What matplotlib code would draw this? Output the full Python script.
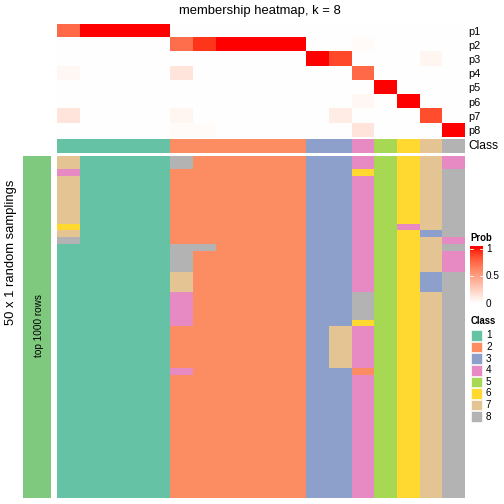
import numpy as np
import matplotlib
matplotlib.use("Agg")
import matplotlib.pyplot as plt
from matplotlib.colors import ListedColormap, BoundaryNorm
from matplotlib.patches import Rectangle

plt.rcParams['font.family'] = ['Liberation Sans', 'DejaVu Sans']

# ---------------- data ----------------
prob_labels = ["p1", "p2", "p3", "p4", "p5", "p6", "p7", "p8"]
n_cols = 18
# membership probability per row (sparse: column -> value)
p1 = {0: 0.74, 1: 1, 2: 1, 3: 1, 4: 1}
p2 = {5: 0.72, 6: 0.92, 7: 1, 8: 1, 9: 1, 10: 1, 13: 0.02}
p3 = {11: 1, 12: 0.87, 16: 0.05}
p4 = {0: 0.04, 5: 0.14, 13: 0.74}
p5 = {14: 1}
p6 = {13: 0.04, 15: 1}
p7 = {0: 0.14, 5: 0.05, 12: 0.1, 16: 0.85}
p8 = {5: 0.02, 6: 0.02, 13: 0.14, 17: 1}
prob_rows = [p1, p2, p3, p4, p5, p6, p7, p8]

col_class = [1, 1, 1, 1, 1, 2, 2, 2, 2, 2, 2, 3, 3, 4, 5, 6, 7, 8]

# main heatmap: run-length (class, n_rows) per column, 50 rows
col_runs = [
    [(7, 2), (4, 1), (7, 7), (6, 1), (7, 1), (8, 1), (1, 37)],
    [(1, 50)],
    [(1, 50)],
    [(1, 50)],
    [(1, 50)],
    [(8, 2), (2, 11), (8, 4), (7, 3), (4, 5), (2, 6), (4, 1), (2, 18)],
    [(2, 13), (8, 1), (2, 36)],
    [(2, 50)],
    [(2, 50)],
    [(2, 50)],
    [(2, 50)],
    [(3, 50)],
    [(3, 25), (7, 6), (3, 19)],
    [(4, 2), (6, 1), (4, 17), (8, 4), (6, 1), (4, 6), (2, 1), (4, 18)],
    [(5, 50)],
    [(6, 10), (4, 1), (6, 39)],
    [(7, 11), (3, 1), (7, 5), (3, 3), (7, 30)],
    [(4, 2), (8, 10), (4, 1), (8, 1), (4, 3), (8, 33)],
]

class_names = ["1", "2", "3", "4", "5", "6", "7", "8"]
class_colors = ["#66C2A5", "#FC8D62", "#8DA0CB", "#E78AC3",
                "#A6D854", "#FFD92F", "#E5C494", "#B3B3B3"]
prob_ticks = [1, 0.5, 0]
prob_tick_labels = ["1", "0.5", "0"]

# ---------------- helpers ----------------
W = H = 504.0


def add_ax(fig, x0, y0, x1, y1):
    ax = fig.add_axes([x0 / W, 1 - y1 / H, (x1 - x0) / W, (y1 - y0) / H])
    ax.set_axis_off()
    return ax


def srgb2lin(c):
    c = np.asarray(c, float)
    return np.where(c <= 0.04045, c / 12.92, ((c + 0.055) / 1.055) ** 2.4)


def lin2srgb(c):
    c = np.asarray(c, float)
    return np.where(c <= 0.0031308, 12.92 * c, 1.055 * np.power(np.clip(c, 0, None), 1 / 2.4) - 0.055)


M = np.array([[0.4124, 0.3576, 0.1805], [0.2126, 0.7152, 0.0722], [0.0193, 0.1192, 0.9505]])
Minv = np.linalg.inv(M)
WP = np.array([0.95047, 1.0, 1.08883])


def rgb2lab(rgb):
    xyz = M @ srgb2lin(rgb) / WP
    f = np.where(xyz > (6 / 29) ** 3, np.cbrt(xyz), xyz / (3 * (6 / 29) ** 2) + 4 / 29)
    return np.array([116 * f[1] - 16, 500 * (f[0] - f[1]), 200 * (f[1] - f[2])])


def lab2rgb(lab):
    L, a, b = lab
    fy = (L + 16) / 116
    fx = fy + a / 500
    fz = fy - b / 200
    f = np.array([fx, fy, fz])
    xyz = np.where(f > 6 / 29, f ** 3, 3 * (6 / 29) ** 2 * (f - 4 / 29)) * WP
    return np.clip(lin2srgb(Minv @ xyz), 0, 1)


lab_w = rgb2lab([1, 1, 1])
lab_r = rgb2lab([1, 0, 0])
prob_cmap = ListedColormap([lab2rgb(lab_w + t * (lab_r - lab_w)) for t in np.linspace(0, 1, 256)])

class_cmap = ListedColormap(class_colors)
class_norm = BoundaryNorm(np.arange(0.5, 9.5, 1), 8)

# ---------------- figure ----------------
fig = plt.figure(figsize=(7, 7), dpi=72)

X0, X1 = 57, 465

# probability rows
P = np.zeros((8, n_cols))
for i, row in enumerate(prob_rows):
    for c, v in row.items():
        P[i, c] = v
axp = add_ax(fig, X0, 24, X1, 137.5)
axp.imshow(P, cmap=prob_cmap, vmin=0, vmax=1, aspect="auto", interpolation="nearest",
           extent=(0, n_cols, 8, 0))
axp.set_xlim(0, n_cols)
axp.set_ylim(8, 0)
for i, lab in enumerate(prob_labels):
    fig.text(468 / W, 1 - (24.5 + (i + 0.5) * 113.5 / 8) / H, lab, fontsize=11, va="center", ha="left")

# class row
axc = add_ax(fig, X0, 138.5, X1, 153)
axc.imshow(np.array([col_class]), cmap=class_cmap, norm=class_norm, aspect="auto",
           interpolation="nearest", extent=(0, n_cols, 1, 0))
fig.text(468 / W, 1 - 146 / H, "Class", fontsize=12, va="center", ha="left")

# main heatmap
n_rows = 50
Mx = np.zeros((n_rows, n_cols), int)
for c, runs in enumerate(col_runs):
    r = 0
    for cls, n in runs:
        Mx[r:r + n, c] = cls
        r += n
axm = add_ax(fig, X0, 155.5, X1, 498)
axm.imshow(Mx, cmap=class_cmap, norm=class_norm, aspect="auto", interpolation="nearest",
           extent=(0, n_cols, n_rows, 0))

# left annotation bar
axl = add_ax(fig, 23, 155.5, 51, 498)
axl.add_patch(Rectangle((0, 0), 1, 1, color="#7FC97F", transform=axl.transAxes))
fig.text(38.5 / W, 1 - 325.5 / H, "top 1000 rows", rotation=90, fontsize=10, ha="center", va="center")

fig.text(11 / W, 1 - 252 / H, "50 x 1 random samplings", rotation=90, fontsize=13,
         ha="center", va="center")

# title
fig.text(260 / W, 1 - 11 / H, "membership heatmap, k = 8", fontsize=13, ha="center", va="center")

# Prob legend
fig.text(470.5 / W, 1 - 238 / H, "Prob", fontsize=9.5, fontweight="bold", ha="left", va="center")
cb_top, cb_bot = 246, 306.5
v_top, v_bot = 249, 303.7  # pixel positions of values 1 and 0
axcb = add_ax(fig, 470, cb_top, 483, cb_bot)
vals = 1 - (np.linspace(cb_top, cb_bot, 300) - v_top) / (v_bot - v_top)
axcb.imshow(np.clip(vals, 0, 1).reshape(-1, 1), cmap=prob_cmap, vmin=0, vmax=1, aspect="auto",
            extent=(0, 1, 0, 1), interpolation="bilinear")
axcb.set_xlim(0, 1)
axcb.set_ylim(0, 1)
for v, lab in zip(prob_ticks, prob_tick_labels):
    ypx = v_bot - v * (v_bot - v_top)
    yax = 1 - (ypx - cb_top) / (cb_bot - cb_top)
    axcb.plot([0, 0.22], [yax, yax], color="white", lw=0.8)
    axcb.plot([0.78, 1], [yax, yax], color="white", lw=0.8)
    fig.text(486 / W, 1 - ypx / H, lab, fontsize=10, ha="left", va="center")

# Class legend
fig.text(470.5 / W, 1 - 321 / H, "Class", fontsize=9.5, fontweight="bold", ha="left", va="center")
for i, (name, col) in enumerate(zip(class_names, class_colors)):
    yc = 335.5 + i * 11.6
    fig.patches.append(Rectangle((471 / W, 1 - (yc + 5.3) / H), 11 / W, 10.6 / H, facecolor=col,
                                 edgecolor="white", lw=0.6, transform=fig.transFigure, figure=fig))
    fig.text(486 / W, 1 - yc / H, name, fontsize=10, ha="left", va="center")

fig.savefig("out.png", dpi=72)
